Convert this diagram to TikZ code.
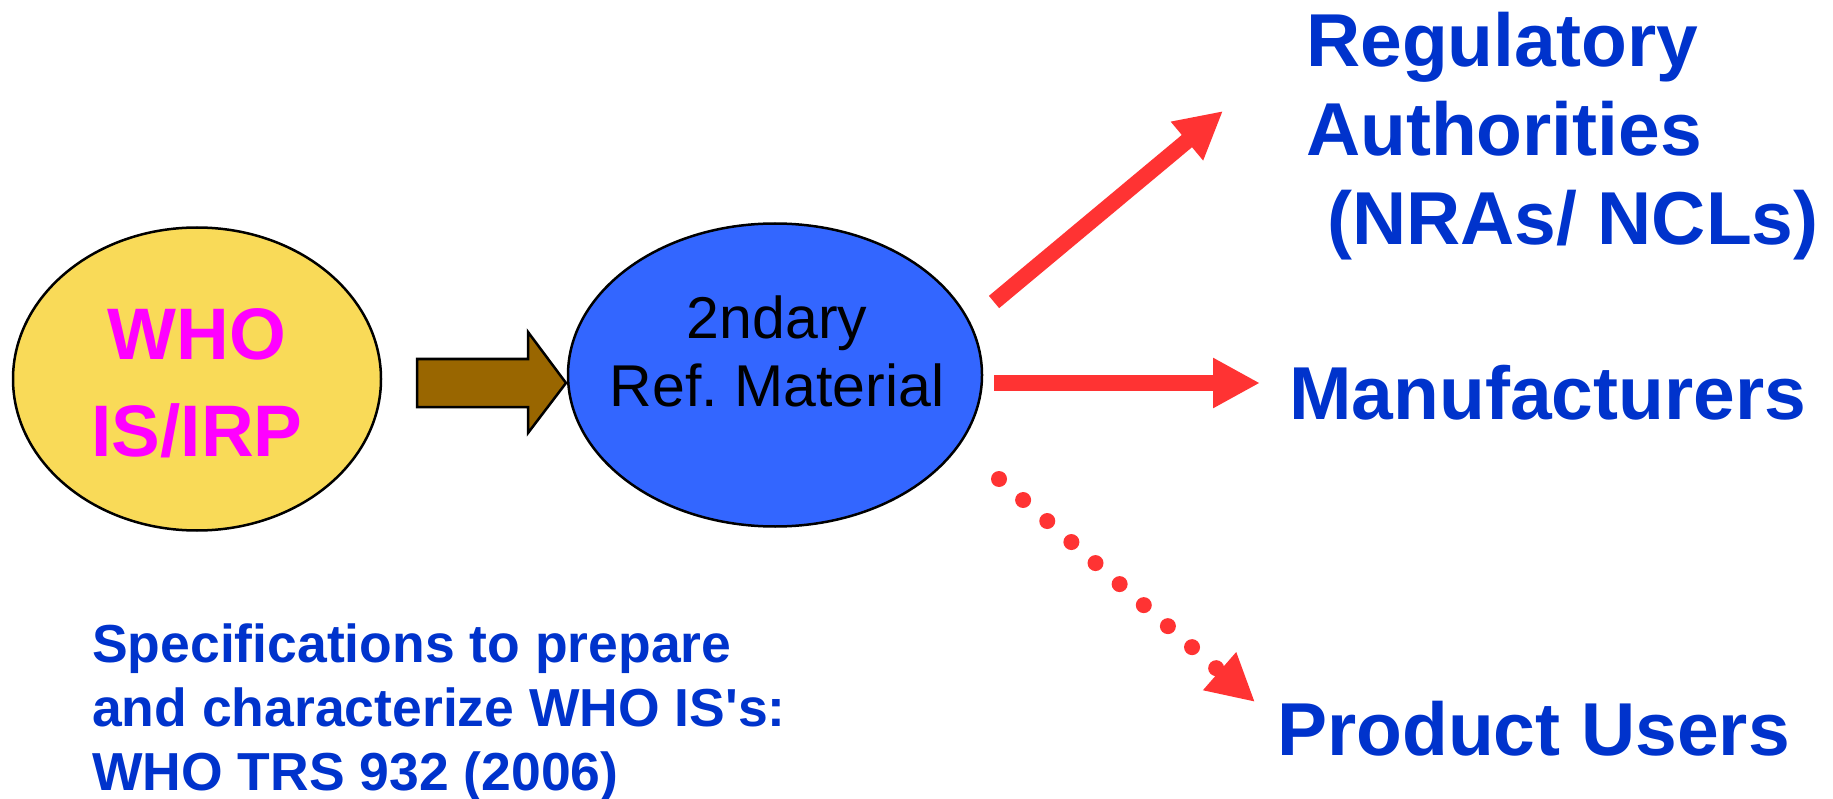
\documentclass[tikz,border=0pt]{standalone}
\usepackage{fontspec}
\setmainfont{Liberation Sans}
\usetikzlibrary{shapes.geometric,arrows.meta}
\definecolor{whoyellow}{HTML}{F9DA58}
\definecolor{refblue}{HTML}{3366FF}
\definecolor{feedbrown}{HTML}{996600}
\definecolor{linkred}{HTML}{FF3333}
\definecolor{textblue}{HTML}{0033CC}
\definecolor{whomagenta}{HTML}{FF00FF}

\begin{document}
\begin{tikzpicture}[x=1pt, y=-1pt, >={Triangle[length=47pt,width=47pt]},
		blob/.style={ellipse, draw=black, line width=2.5pt, inner sep=0pt},
		target/.style={anchor=base west, align=left, inner sep=0pt, text=textblue,
			font=\fontsize{75}{89}\selectfont\bfseries},
		link/.style={->, draw=linkred, line width=16pt}]
			% Fix the page to the size of the picture
			\useasboundingbox (0,0) rectangle (1833,799);

			% Draw the two ellipses (text nodes sit on their last baseline)
			\node[blob, fill=whoyellow, minimum width=368pt, minimum height=303pt] (who) at (197,379) {};
			\node[blob, fill=refblue, minimum width=414pt, minimum height=303pt] (refmat) at (775,375) {};
			\node[anchor=base, align=center, inner sep=0pt, text=whomagenta,
				font=\fontsize{73}{97}\selectfont\bfseries] (who-text) at (197,456) {WHO\\IS/IRP};
			\node[anchor=base, align=center, inner sep=0pt,
				font=\fontsize{59}{68}\selectfont] (refmat-text) at (777,406) {2ndary\\Ref.\ Material};

			% Block arrow from the WHO standard to the secondary material
			\draw[line width=2.5pt, fill=feedbrown] (417,359) -- (528,359) -- (528,332) -- (566,383)
				-- (528,433) -- (528,407) -- (417,407) -- cycle;

			% Targets
			\node[target] (reg) at (1306,245) {Regulatory\\Authorities\\\ (NRAs/ NCLs)};
			\node[target] (manu) at (1289,419) {Manufacturers};
			\node[target] (users) at (1277,755) {Product Users};
			\node[target, font=\fontsize{53.5}{64}\selectfont\bfseries] (spec) at (92,790)
				{Specifications to prepare\\and characterize WHO IS\textquotesingle s:\\WHO TRS 932 (2006)};

			% Free ends of the red arrows
			\coordinate (reg-from) at (994,302);
			\coordinate (reg-to) at (1223,111);
			\coordinate (manu-from) at (994,383);
			\coordinate (manu-to) at (1260,383);
			\coordinate (users-from) at (999,479);
			\coordinate (users-to) at (1255,702);

			\draw[link] (reg-from) -- (reg-to);
			\draw[link] (manu-from) -- (manu-to);
			\draw[link, line cap=round, dash pattern=on 0pt off 32pt] (users-from) -- (users-to);
		\end{tikzpicture}
\end{document}
